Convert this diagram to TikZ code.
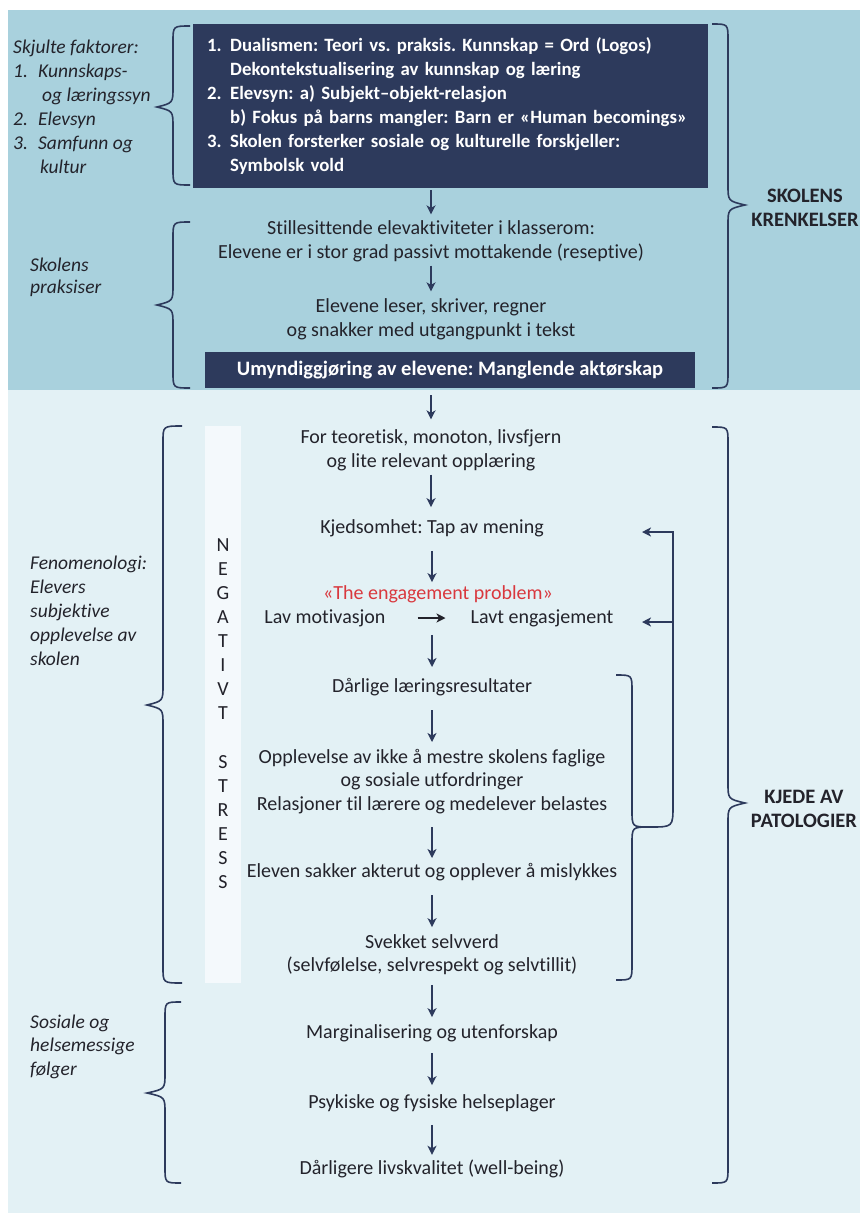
\documentclass[tikz,border=0pt]{standalone}
\usepackage{fontspec}
\setmainfont{Carlito}[Ligatures=NoCommon]
\usetikzlibrary{arrows.meta}
\definecolor{navy}{HTML}{2D3A5C}
\definecolor{ink}{HTML}{23232B}
\definecolor{topbg}{HTML}{A9D1DD}
\definecolor{botbg}{HTML}{E3F1F5}
\definecolor{colbg}{HTML}{F4F9FC}
\definecolor{engred}{HTML}{D9383E}
\frenchspacing
\newcommand{\MyBrace}[6]{%
  \draw[br] (#1,#4) .. controls (#2,#4) .. (#2,#4+16) -- (#2,#5-20)
    .. controls (#2,#5-4) .. (#3,#5) .. controls (#2,#5+4) .. (#2,#5+20)
    -- (#2,#6-16) .. controls (#2,#6) .. (#1,#6);}
\begin{document}
\begin{tikzpicture}[x=1pt,y=-1pt,
  body/.style={font=\fontsize{20}{24.5}\selectfont, text=ink, align=center, inner sep=0pt},
  itl/.style={font=\fontsize{19.5}{24}\selectfont\itshape, text=ink, align=left, inner sep=0pt, anchor=base west},
  hd/.style={font=\fontsize{20.5}{24}\selectfont\bfseries, text=ink, align=center, inner sep=0pt},
  arr/.style={draw=navy, line width=1.6pt, -{Stealth[length=9pt,width=9pt,inset=2.5pt]}},
  arrk/.style={draw=ink, line width=1.8pt, -{Stealth[length=9pt,width=9pt,inset=2.5pt]}},
  br/.style={draw=navy, line width=1.6pt},
  darkbox/.style={fill=navy, text=white, font=\fontsize{18.8}{24}\selectfont\bfseries, inner sep=0pt},
]
\useasboundingbox (0,0) rectangle (860,1219);
\fill[white] (0,0) rectangle (860,1219);
\fill[topbg] (8,10) rectangle (860,390);
\fill[botbg] (8,390) rectangle (860,1213);

% ---------- top section ----------
\node[darkbox, anchor=north west, minimum width=515pt, minimum height=164pt,
      inner xsep=14pt, text width=487pt, align=left] (box1) at (193,24)
 {\begin{tabular}{@{}p{23pt}@{}l@{}}
  1. & Dualismen: Teori vs. praksis. Kunnskap = Ord (Logos)\\
     & Dekontekstualisering av kunnskap og læring\\
  2. & Elevsyn: a) Subjekt–objekt-relasjon\\
     & b) Fokus på barns mangler: Barn er «Human becomings»\\
  3. & Skolen forsterker sosiale og kulturelle forskjeller:\\
     & Symbolsk vold
  \end{tabular}};

\node[itl] (skjult) at (13,53)
 {\begin{tabular}[t]{@{}p{25pt}@{}l@{}}
  \multicolumn{2}{@{}l@{}}{Skjulte faktorer:}\\
  1. & Kunnskaps-\\
     & \hspace{4pt}og læringssyn\\
  2. & Elevsyn\\
  3. & Samfunn og\\
     & \hspace{2pt}kultur
  \end{tabular}};

\node[body] (stille) at (431,241.5)
 {Stillesittende elevaktiviteter i klasserom:\\Elevene er i stor grad passivt mottakende (reseptive)};
\node[body] (leser) at (431,319.5)
 {Elevene leser, skriver, regner\\og snakker med utgangpunkt i tekst};
\node[darkbox, font=\fontsize{20.5}{24}\selectfont\bfseries, minimum width=490pt, minimum height=36pt] (box2) at (450,370)
 {Umyndiggjøring av elevene: Manglende aktørskap};

\node[itl, font=\fontsize{19.5}{22}\selectfont\itshape] (prak) at (30,293) {Skolens\\praksiser};
\node[hd] (krenk) at (805,208) {SKOLENS\\KRENKELSER};

\MyBrace{190}{173}{157}{26}{107}{185}
\MyBrace{190}{173}{157}{222}{305}{388}
\MyBrace{712}{728}{745}{24}{205}{388}

\draw[arr, shorten <=2pt, shorten >=6pt] (box1.south -| stille) -- (stille.north);
\draw[arr, shorten <=3pt, shorten >=7pt] (stille.south) -- (leser.north);

% ---------- bottom section ----------
\node[fill=colbg, minimum width=36pt, minimum height=557pt, inner sep=0pt] (colbox) at (223,704.5) {};
\node[body, font=\fontsize{20}{24.07}\selectfont] (stress) at (223,713.5)
 {N\\E\\G\\A\\T\\I\\V\\T\\~\\S\\T\\R\\E\\S\\S};

\node[body] (teor) at (431,450.5) {For teoretisk, monoton, livsfjern\\og lite relevant opplæring};
\node[body] (kjed) at (432,528) {Kjedsomhet: Tap av mening};
\node[body, text=engred] (eng) at (438,594) {«The engagement problem»};
\node[body] (lav) at (325,618) {Lav motivasjon};
\node[body] (lavt) at (542,618) {Lavt engasjement};
\node[body] (dar) at (432,687) {Dårlige læringsresultater};
\node[body, font=\fontsize{20}{23.5}\selectfont] (oppl) at (432,781.5)
 {Opplevelse av ikke å mestre skolens faglige\\og sosiale utfordringer\\Relasjoner til lærere og medelever belastes};
\node[body] (elev) at (432,872) {Eleven sakker akterut og opplever å mislykkes};
\node[body, font=\fontsize{20}{23}\selectfont] (svek) at (432,954.5) {Svekket selvverd\\(selvfølelse, selvrespekt og selvtillit)};
\node[body] (marg) at (432,1033) {Marginalisering og utenforskap};
\node[body] (psyk) at (432,1103) {Psykiske og fysiske helseplager};
\node[body] (darl) at (432,1169) {Dårligere livskvalitet (well-being)};

\node[itl, font=\fontsize{19.5}{23.8}\selectfont\itshape] (fenom) at (30,665)
 {Fenomenologi:\\Elevers\\subjektive\\opplevelse av\\skolen};
\node[itl, font=\fontsize{19.5}{23.5}\selectfont\itshape] (sosial) at (30,1075)
 {Sosiale og\\helsemessige\\følger};
\node[hd] (kjede) at (804,809) {KJEDE AV\\PATOLOGIER};

\MyBrace{182}{163}{147}{426}{705}{983}
\MyBrace{181}{165}{147}{1002}{1093}{1183}
\MyBrace{712}{728}{745}{427}{803}{1183}

\draw[arr, shorten <=7pt, shorten >=10pt] (box2.south -| teor) -- (teor.north);
\draw[arr, shorten <=3pt, shorten >=12pt] (teor.south) -- (teor.south |- kjed.north);
\draw[arr, shorten <=14pt, shorten >=3pt] (kjed.south) -- (kjed.south |- eng.north);
\draw[arrk, shorten <=32pt, shorten >=25pt] (lav.east) -- (lavt.west);
\draw[arr, shorten <=8pt, shorten >=11pt] (kjed.south |- lav.south) -- (dar.north);
\draw[arr, shorten <=14pt, shorten >=7pt] (dar.south) -- (dar.south |- oppl.north);
\draw[arr, shorten <=13pt, shorten >=5pt] (oppl.south) -- (oppl.south |- elev.north);
\draw[arr, shorten <=14pt, shorten >=7pt] (elev.south) -- (elev.south |- svek.north);
\draw[arr, shorten <=10pt, shorten >=7pt] (svek.south) -- (svek.south |- marg.north);
\draw[arr, shorten <=11pt, shorten >=9pt] (marg.south) -- (marg.south |- psyk.north);
\draw[arr, shorten <=13pt, shorten >=5pt] (psyk.south) -- (psyk.south |- darl.north);

% feedback bracket
\coordinate (fbtop) at (642,532);
\coordinate (fbmid) at (642,622);
\coordinate (fbjoin) at (650,827);
\draw[br] (616,675) .. controls (632,675) .. (632,691) -- (632,810)
  .. controls (632,827) .. (fbjoin)
  .. controls (632,827) .. (632,844) -- (632,964) .. controls (632,980) .. (616,980);
\draw[arr] (fbjoin) .. controls (673,827) .. (673,805) -- (673,532) -- (fbtop);
\draw[arr] (673,622) -- (fbmid);
\end{tikzpicture}
\end{document}
